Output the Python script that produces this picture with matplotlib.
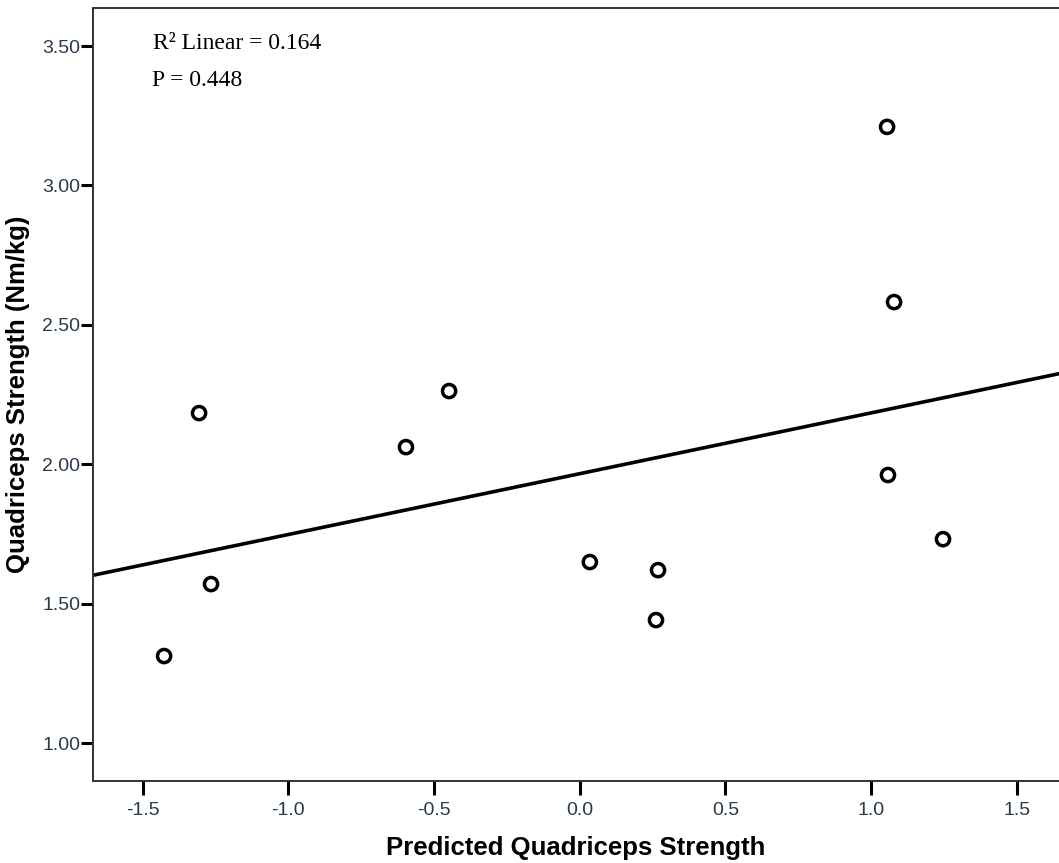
import numpy as np
import matplotlib.pyplot as plt

# values
predicted = [1.055, 1.079, -0.448, -0.596, -1.306, 1.058, 1.247, 0.035, 0.269, -1.265, 0.262, -1.426]
strength = [3.21, 2.582, 2.263, 2.062, 2.184, 1.962, 1.732, 1.650, 1.621, 1.571, 1.442, 1.313]
x_ticks = [-1.5, -1.0, -0.5, 0.0, 0.5, 1.0, 1.5]
y_ticks = [1.00, 1.50, 2.00, 2.50, 3.00, 3.50]
r2_text = "R\u00b2 Linear = 0.164"
p_text = "P = 0.448"

fig = plt.figure(figsize=(10.59, 8.63), dpi=100)
ax = fig.add_axes([0.0881, 0.095, 0.9119, 0.8963])

ax.scatter(predicted, strength, s=90, facecolors='none', edgecolors='black',
           linewidths=2.5, zorder=3)

# least squares line across the full x range
xlim = (-1.669, 1.645)
slope, icpt = np.polyfit(predicted, strength, 1)
xs = np.array(xlim)
ax.plot(xs, icpt + slope * xs, color='black', lw=2.6, zorder=2)

ax.set_xlim(*xlim)
ax.set_ylim(0.865, 3.638)
ax.set_xticks(x_ticks)
ax.set_xticklabels([f"{v:.1f}" for v in x_ticks])
ax.set_yticks(y_ticks)
ax.set_yticklabels([f"{v:.2f}" for v in y_ticks])

for s in ['left', 'bottom', 'top']:
    ax.spines[s].set_linewidth(1.4)
    ax.spines[s].set_color('#333333')
ax.spines['right'].set_visible(False)

ax.tick_params(axis='x', length=10, width=2.2, pad=5, labelsize=14,
               labelcolor='#2a3a4a', color='black')
ax.tick_params(axis='y', length=8.5, width=2.2, pad=1, labelsize=14,
               labelcolor='#2a3a4a', color='black')
for lbl in ax.get_xticklabels() + ax.get_yticklabels():
    lbl.set_family('Liberation Sans')

ax.set_xlabel("Predicted Quadriceps Strength", fontsize=18.5, fontweight='bold',
              family='Liberation Sans', labelpad=12)
ax.set_ylabel("Quadriceps Strength (Nm/kg)", fontsize=18.5, fontweight='bold',
              family='Liberation Sans', labelpad=9)

ax.text(0.062, 0.953, r2_text, transform=ax.transAxes, fontsize=17,
        family='Liberation Serif', va='center', ha='left')
ax.text(0.061, 0.906, p_text, transform=ax.transAxes, fontsize=17,
        family='Liberation Serif', va='center', ha='left')

fig.savefig("out.png", dpi=100)
